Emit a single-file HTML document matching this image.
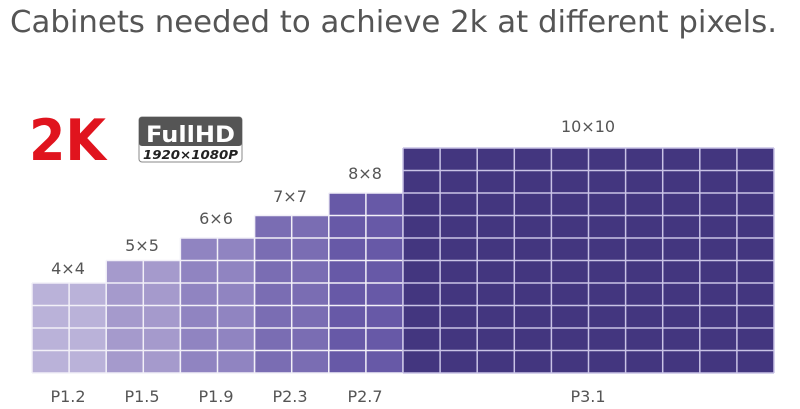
<!DOCTYPE html>
<html><head><meta charset="utf-8"><style>
html,body{margin:0;padding:0;background:#fff;}
svg{display:block;}
text{font-family:"DejaVu Sans","Liberation Sans",sans-serif;}
</style></head><body>
<svg id="s" width="800" height="409" viewBox="0 0 800 409" xmlns="http://www.w3.org/2000/svg">
<text x="10" y="32" font-size="30" fill="#555" textLength="767" lengthAdjust="spacingAndGlyphs">Cabinets needed to achieve 2k at different pixels.</text>
<text x="29" y="160" font-size="57" font-weight="bold" fill="#e0141e" font-family="Liberation Sans, sans-serif" textLength="77" lengthAdjust="spacingAndGlyphs">2K</text>
<rect x="139" y="117" width="103" height="45" rx="3" fill="#fff" stroke="#888" stroke-width="1"/>
<rect x="139" y="117" width="103" height="29" rx="3" fill="#555"/>
<text x="146" y="142" font-size="22" font-weight="bold" fill="#fff" font-family="Liberation Sans, sans-serif" textLength="89" lengthAdjust="spacingAndGlyphs">FullHD</text>
<text x="143" y="159" font-size="12" font-style="italic" font-weight="bold" fill="#222" font-family="Liberation Sans, sans-serif" textLength="95" lengthAdjust="spacingAndGlyphs">1920×1080P</text>
<g id="g"></g>
<g font-size="16" fill="#555" text-anchor="middle">
<text x="68" y="274">4×4</text>
<text x="142" y="251">5×5</text>
<text x="216" y="224">6×6</text>
<text x="290" y="202">7×7</text>
<text x="365" y="179">8×8</text>
<text x="588" y="132">10×10</text>
<text x="68" y="402">P1.2</text>
<text x="142" y="402">P1.5</text>
<text x="216" y="402">P1.9</text>
<text x="290" y="402">P2.3</text>
<text x="365" y="402">P2.7</text>
<text x="588" y="402">P3.1</text>
</g>
</svg>
<script>
var g=document.getElementById('g');
var blocks=[[0,2,4,'#bab2d9'],[2,2,5,'#a59acc'],[4,2,6,'#9084c1'],[6,2,7,'#7a6db3'],[8,2,8,'#6759a7'],[10,10,10,'#43367f']];
var x0=32,cw=37.1,base=373,rh=22.5,h='';
blocks.forEach(function(b){
 var lc=b[0]==10?'#c9c3e6':'#f2f0f8';
 var bx=x0+b[0]*cw,w=b[1]*cw,H=b[2]*rh;
 h+='<rect x="'+bx+'" y="'+(base-H)+'" width="'+w+'" height="'+H+'" fill="'+b[3]+'"/>';
 for(var i=0;i<=b[1];i++){var x=bx+i*cw;h+='<line x1="'+x+'" y1="'+(base-H)+'" x2="'+x+'" y2="'+base+'" stroke="'+lc+'" stroke-width="1.5"/>';}
 for(var j=0;j<=b[2];j++){var y=base-j*rh;h+='<line x1="'+bx+'" y1="'+y+'" x2="'+(bx+w)+'" y2="'+y+'" stroke="'+lc+'" stroke-width="1.5"/>';}
});
g.innerHTML=h;
</script>
</body></html>
